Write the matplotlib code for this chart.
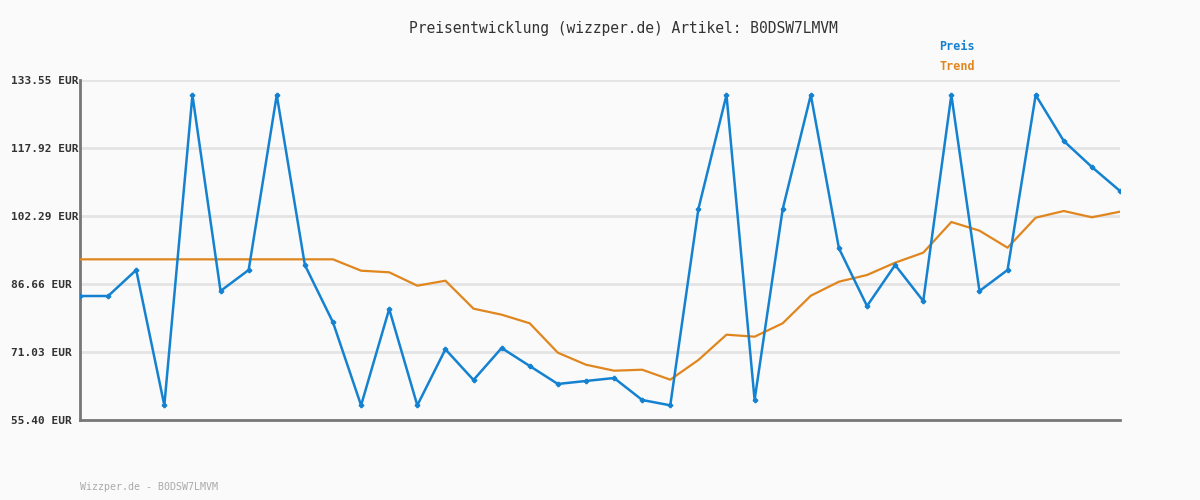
import matplotlib.pyplot as plt

# price series (EUR), one point per sample
preis = [83.90, 83.90, 89.88, 58.77, 130.10, 85.05, 89.88, 130.10, 91.03, 77.85,
         58.77, 80.91, 58.77, 71.65, 64.60, 71.95, 67.81, 63.68, 64.37, 65.05,
         60.00, 58.77, 103.90, 130.10, 60.00, 103.90, 130.10, 94.86, 81.60, 91.03,
         82.75, 130.10, 85.05, 89.88, 130.10, 119.53, 113.55, 108.04]
trend = [92.33, 92.33, 92.33, 92.33, 92.33, 92.33, 92.33, 92.33, 92.33, 92.33,
         89.72, 89.35, 86.27, 87.42, 80.99, 79.61, 77.63, 70.87, 68.11, 66.73,
         66.96, 64.67, 69.19, 75.01, 74.55, 77.63, 83.97, 87.19, 88.73, 91.56,
         93.86, 100.91, 98.92, 95.00, 101.90, 103.44, 101.99, 103.28]
yticks = [55.40, 71.03, 86.66, 102.29, 117.92, 133.55]
ytick_labels = ["55.40 EUR", "71.03 EUR", "86.66 EUR", "102.29 EUR", "117.92 EUR", "133.55 EUR"]

BLUE = "#1482d0"
ORANGE = "#e0861e"
MONO = "DejaVu Sans Mono"

fig = plt.figure(figsize=(12, 5), dpi=100, facecolor="#fafafa")
ax = fig.add_axes([80/1200, 80/500, 1040/1200, 340/500])
ax.set_facecolor("#fafafa")

x = list(range(len(preis)))
ax.plot(x, trend, color=ORANGE, lw=1.6, zorder=3)
ax.plot(x, preis, color=BLUE, lw=1.8, marker="P", ms=3, zorder=4)

ax.set_xlim(0, len(preis) - 1)
ax.set_ylim(yticks[0], yticks[-1])
ax.set_xticks([])
ax.set_yticks(yticks)
ax.set_yticklabels(ytick_labels, fontfamily=MONO, fontsize=8, fontweight="bold", color="#333333")
ax.tick_params(axis="y", length=0, pad=50)
for lab in ax.get_yticklabels():
    lab.set_horizontalalignment("left")
ax.grid(axis="y", color="#e4e4e4", lw=2)
ax.set_axisbelow(True)
for s in ["top", "right"]:
    ax.spines[s].set_visible(False)
for s in ["left", "bottom"]:
    ax.spines[s].set_color("#777777")
    ax.spines[s].set_linewidth(2)

fig.text(623/1200, 1 - 28/500, "Preisentwicklung (wizzper.de) Artikel: B0DSW7LMVM",
         ha="center", va="center", fontfamily=MONO, fontsize=10.5, color="#333333")
fig.text(939/1200, 1 - 46/500, "Preis", ha="left", va="center",
         fontfamily=MONO, fontsize=8.5, fontweight="bold", color=BLUE)
fig.text(939/1200, 1 - 67/500, "Trend", ha="left", va="center",
         fontfamily=MONO, fontsize=8.5, fontweight="bold", color=ORANGE)
fig.text(80/1200, 1 - 487/500, "Wizzper.de - B0DSW7LMVM", ha="left", va="center",
         fontfamily=MONO, fontsize=7.2, color="#aaaaaa")

fig.savefig("out.png", dpi=100, facecolor=fig.get_facecolor())
